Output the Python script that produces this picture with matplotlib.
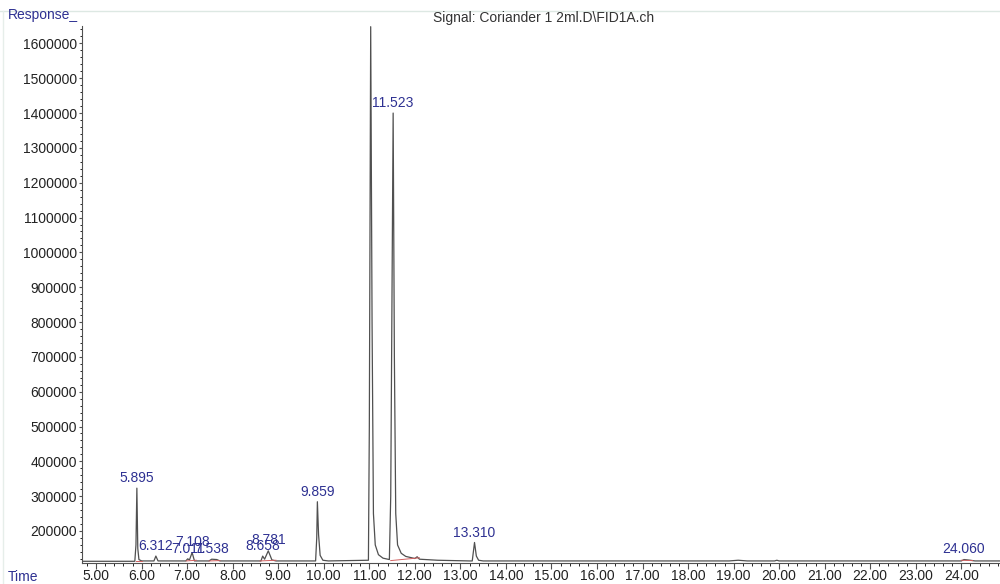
import numpy as np
import matplotlib.pyplot as plt
from matplotlib.ticker import MultipleLocator, FormatStrFormatter

plt.rcParams['font.family'] = ['Liberation Sans', 'DejaVu Sans']

# trace: time (min), response
t = [4.70, 5.85, 5.875, 5.895, 5.915, 5.94, 6.00,
     6.27, 6.312, 6.36,
     6.97, 7.011, 7.05, 7.108, 7.16,
     7.48, 7.538, 7.65, 7.72,
     8.62, 8.658, 8.70, 8.781, 8.86, 8.95,
     9.82, 9.845, 9.859, 9.885, 9.92, 9.98, 10.10,
     10.98, 11.00, 11.03, 11.06, 11.09, 11.13, 11.20, 11.30, 11.44,
     11.47, 11.523, 11.55, 11.58, 11.62, 11.70, 11.80, 12.00, 12.05, 12.10, 12.50,
     13.20, 13.26, 13.31, 13.35, 13.40, 13.50,
     18.90, 19.10, 19.30, 19.90, 19.95, 20.00,
     24.00, 24.06, 24.20, 24.30, 24.85]
resp = [113000, 113000, 160000, 323000, 150000, 118000, 114000,
        114000, 128000, 114000,
        114000, 120000, 117000, 138000, 114000,
        114000, 119000, 118000, 114000,
        114000, 128000, 119000, 143000, 117000, 114000,
        114000, 180000, 284000, 190000, 130000, 116000, 114000,
        116000, 500000, 1648000, 800000, 250000, 160000, 132000, 122000, 118000,
        300000, 1400000, 700000, 250000, 160000, 136000, 127000, 121000, 126000, 119000, 116000,
        114000, 114000, 167000, 128000, 116000, 114000,
        114000, 116000, 114000, 114000, 116000, 114000,
        114000, 118000, 116000, 114000, 114000]

# labelled peaks
pk_t = [5.895, 6.312, 7.108, 7.011, 7.538, 8.658, 8.781, 9.859, 11.523, 13.310, 24.060]
pk_h = [323000, 128000, 140000, 120000, 120000, 128000, 145000, 284000, 1400000, 167000, 120000]

# integration baselines (red)
bl_t = [(5.88, 6.00), (6.98, 7.20), (7.48, 7.72), (8.60, 8.95), (11.47, 12.10), (24.00, 24.25)]
bl_r = [(113000, 113000), (114000, 116000), (114000, 115000), (114000, 116000), (115000, 123000), (116000, 115000)]

fig = plt.figure(figsize=(10, 5.84), dpi=100)
ax = fig.add_axes([0.082, 0.0365, 0.918, 0.919])

ax.plot(t, resp, color='#505050', lw=0.9)
for (a, b), (c, d) in zip(bl_t, bl_r):
    ax.plot([a, b], [c, d], color='#d06060', lw=0.7)

for x, h in zip(pk_t, pk_h):
    ax.annotate(f'{x:.3f}', (x, h), xytext=(0, 2), textcoords='offset points',
                ha='center', va='bottom', fontsize=10, color='#2e3192')

ax.set_xlim(4.69, 24.85)
ax.set_ylim(109000, 1650000)
ax.xaxis.set_major_locator(MultipleLocator(1))
ax.xaxis.set_minor_locator(MultipleLocator(0.2))
ax.xaxis.set_major_formatter(FormatStrFormatter('%.2f'))
ax.set_yticks(np.arange(200000, 1600001, 100000))
ax.yaxis.set_major_formatter(FormatStrFormatter('%d'))
ax.yaxis.set_minor_locator(MultipleLocator(20000))
ax.tick_params(axis='both', labelsize=10, colors='#505050', labelcolor='#222222', width=0.8)
ax.tick_params(axis='x', which='major', length=4, pad=0.5)
ax.tick_params(axis='x', which='minor', length=2)
ax.tick_params(axis='y', which='major', length=2, pad=1.5)
ax.tick_params(axis='y', which='minor', length=1.5)

for s in ['top', 'right']:
    ax.spines[s].set_visible(False)
for s in ['left', 'bottom']:
    ax.spines[s].set_color('#505050')
    ax.spines[s].set_linewidth(0.8)

fig.text(0.008, 0.975, 'Response_', fontsize=10, color='#2e3192', va='center')
fig.text(0.008, 0.012, 'Time', fontsize=10, color='#2e3192', va='center')
fig.text(0.433, 0.969, 'Signal: Coriander 1 2ml.D\\FID1A.ch', fontsize=10, color='#333333', va='center')

# faint frame lines of the screenshot
fig.add_artist(plt.Line2D([0, 1], [0.982, 0.982], color='#dde8e3', lw=1))
fig.add_artist(plt.Line2D([0.003, 0.003], [0, 0.982], color='#e6eeea', lw=1))

fig.savefig('out.png', dpi=100)
